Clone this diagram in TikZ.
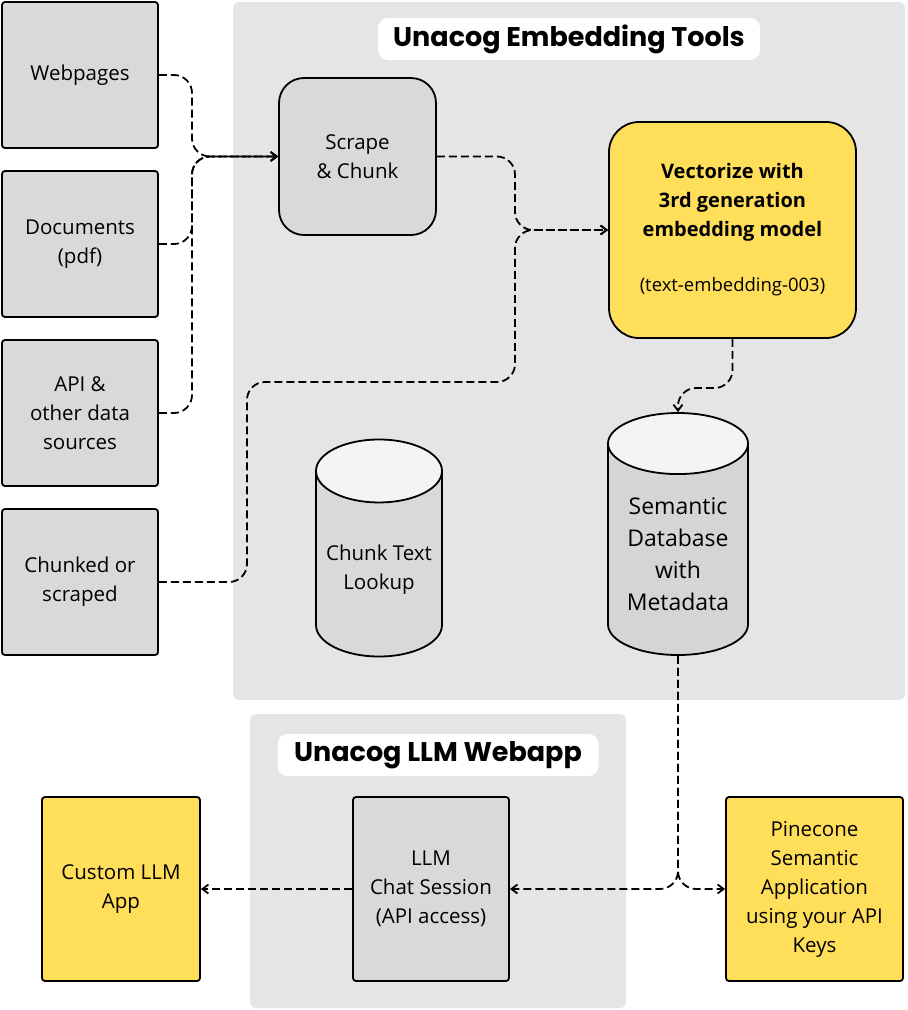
\documentclass[tikz,border=0pt]{standalone}
\usepackage{fontspec}
\setmainfont{Open Sans}
\newfontfamily\headfont{Poppins}
\usetikzlibrary{positioning,shapes.geometric,arrows.meta}
\definecolor{panel}{HTML}{E5E5E5}
\definecolor{boxgray}{HTML}{D9D9D9}
\definecolor{boxyellow}{HTML}{FFDE59}
\definecolor{dbgray}{HTML}{D3D6D3}
\definecolor{capgray}{HTML}{F4F4F4}
\begin{document}
\begin{tikzpicture}[x = 1pt, y = -1pt, line width = 1.8pt,
  src/.style = {draw, fill = boxgray, rounded corners = 3pt, minimum width = 156pt, minimum height = 146pt, align = center, font = \fontsize{20.5}{29}\selectfont},
  card/.style = {draw, rounded corners = 3pt, minimum height = 184pt, align = center, font = \fontsize{20.5}{29}\selectfont},
  titlebox/.style = {fill = white, rounded corners = 10pt, minimum height = 42pt, font = \headfont\bfseries\fontsize{27}{30}\selectfont},
  cyl/.style = {draw, cylinder, shape border rotate = 90, aspect = 0.56, anchor = shape center, cylinder uses custom fill, cylinder end fill = capgray, align = center},
  flow/.style = {dash pattern = on 8pt off 4pt, line width = 1.8pt, rounded corners = 18pt, -{Straight Barb[length = 6pt, width = 9pt]}}]
\useasboundingbox (0, 0) rectangle (908, 1010);
\fill[panel, rounded corners = 6pt] (233, 2) rectangle (905, 700);
\fill[panel, rounded corners = 6pt] (250, 714) rectangle (626, 1008);
\node[titlebox, minimum width = 382pt] (tools) at (569, 39) {Unacog Embedding Tools};
\node[titlebox, minimum width = 321pt] (webapp) at (438, 755) {Unacog LLM Webapp};
\foreach \nm/\y/\txt in {web/75/Webpages, doc/244/{Documents\\(pdf)}, api/413/{API \&\\other data\\sources}, chunked/582/{Chunked or\\scraped}}
  {\node[src] (\nm) at (80, \y) {\txt};}
\node[draw, fill = boxgray, rounded corners = 25pt, minimum width = 157pt, minimum height = 157pt, align = center, font = \fontsize{20.5}{29}\selectfont] (scrape) at (357.5, 156.5) {Scrape\\\& Chunk};
\node[draw, fill = boxyellow, rounded corners = 30pt, minimum width = 247pt, minimum height = 216pt, align = center, font = \bfseries\fontsize{20}{29}\selectfont] (vec) at (732.5, 230) {Vectorize with\\3rd generation\\embedding model\\[26pt]{\mdseries\fontsize{18.5}{20}\selectfont(text-embedding-003)}};
\node[cyl, cylinder body fill = boxgray, minimum width = 126pt, minimum height = 217pt, font = \fontsize{20.5}{29}\selectfont] (lookup) at (379, 548) {Chunk Text\\Lookup};
\node[cyl, cylinder body fill = dbgray, minimum width = 140pt, minimum height = 242pt, font = \fontsize{23}{32}\selectfont] (db) at (678, 534) {Semantic\\Database\\with\\Metadata};
\node[card, fill = boxgray, minimum width = 156pt] (chat) at (431, 889) {LLM\\Chat Session\\(API access)};
\node[card, fill = boxyellow, minimum width = 158pt] (custom) at (121, 889) {Custom LLM\\App};
\node[card, fill = boxyellow, minimum width = 177pt] (pine) at (814.5, 889) {Pinecone\\Semantic\\Application\\using your API\\Keys};
\coordinate (jx) at (192, 0);
\coordinate (kx) at (515, 0);
\foreach \nm in {web, doc, api}
  {\draw[flow] (\nm.east) -- (\nm.east -| jx) -- (jx |- scrape.west) -- (scrape.west);}
\draw[flow] (scrape.east) -- (scrape.east -| kx) -- (kx |- vec.west) -- (vec.west);
\draw[flow] (chunked.east) -- (247, 582) -- (247, 382) -- (515, 382) -- (kx |- vec.west) -- (vec.west);
\draw[flow] (vec.south) -- (732.5, 388) -- (db.north |- 0, 388) -- (db.north);
\draw[flow] (db.south) -- (db.south |- chat.east) -- (chat.east);
\draw[flow] (db.south) -- (db.south |- pine.west) -- (pine.west);
\draw[flow] (chat.west) -- (custom.east);
\end{tikzpicture}
\end{document}
